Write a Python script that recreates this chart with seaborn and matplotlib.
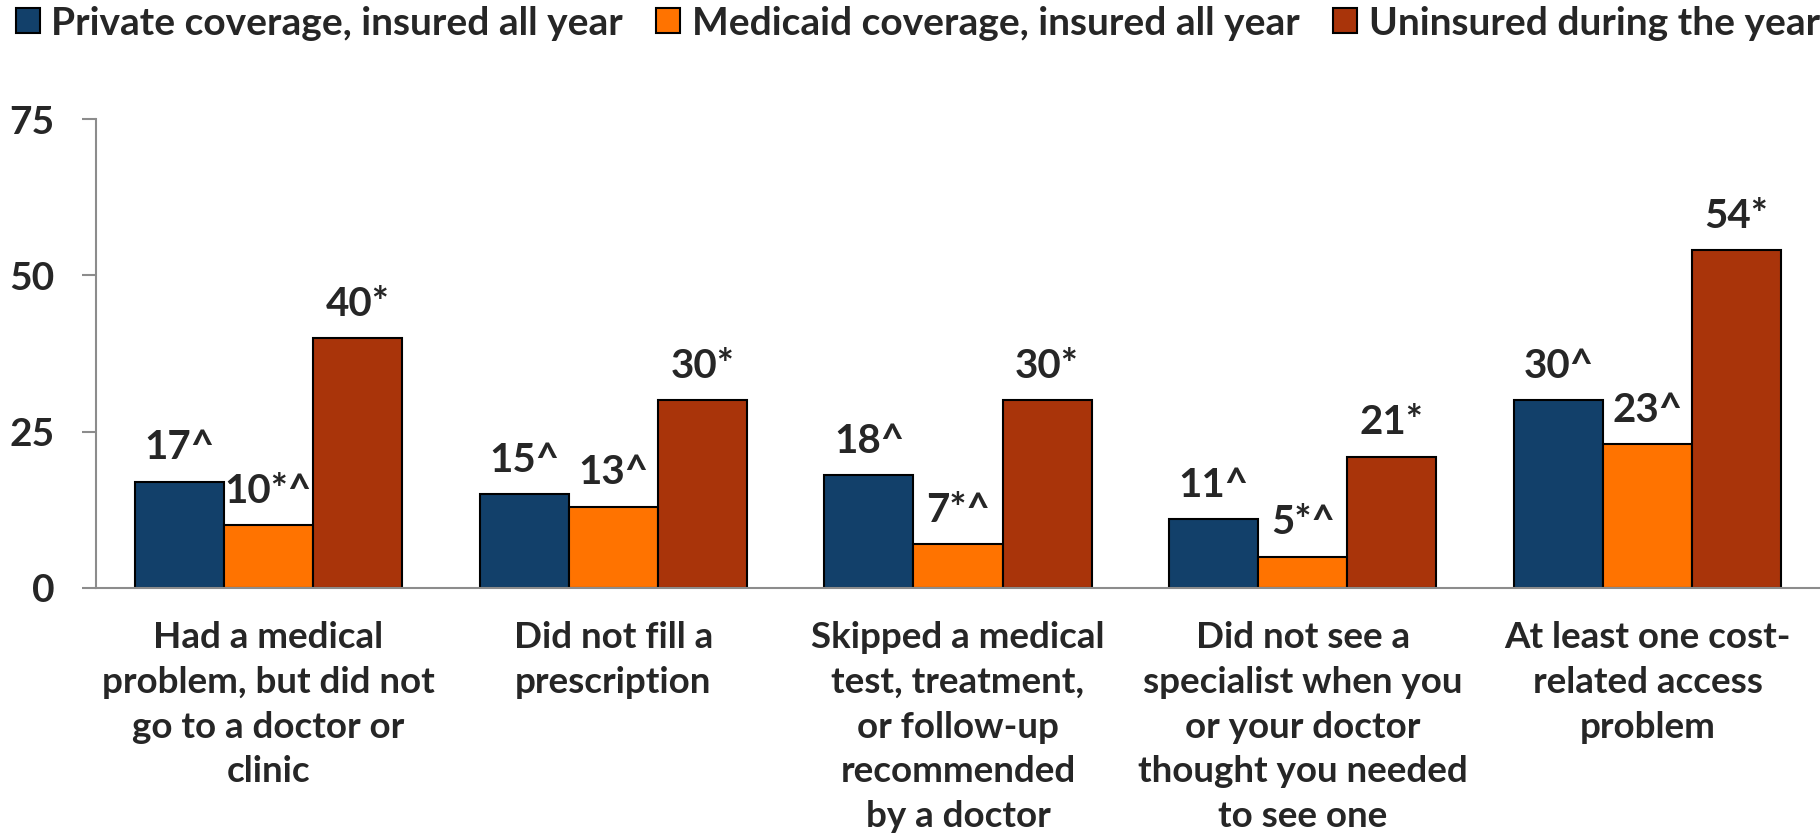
import matplotlib
matplotlib.use("Agg")
import matplotlib.pyplot as plt
import seaborn as sns
import pandas as pd
from matplotlib.patches import Patch

categories = [
    "Had a medical\nproblem, but did not\ngo to a doctor or\nclinic",
    "Did not fill a\nprescription",
    "Skipped a medical\ntest, treatment,\nor follow-up\nrecommended\nby a doctor",
    "Did not see a\nspecialist when you\nor your doctor\nthought you needed\nto see one",
    "At least one cost-\nrelated access\nproblem",
]
series = ["Private coverage, insured all year",
          "Medicaid coverage, insured all year",
          "Uninsured during the year"]
private = [17, 15, 18, 11, 30]
medicaid = [10, 13, 7, 5, 23]
uninsured = [40, 30, 30, 21, 54]
private_labels = ["17^", "15^", "18^", "11^", "30^"]
medicaid_labels = ["10*^", "13^", "7*^", "5*^", "23^"]
uninsured_labels = ["40*", "30*", "30*", "21*", "54*"]
colors = ["#12406A", "#FF7300", "#A9340A"]
yticks = [0, 25, 50, 75]

rows = []
for s, vals in zip(series, [private, medicaid, uninsured]):
    for c, v in zip(categories, vals):
        rows.append({"category": c, "series": s, "value": v})
df = pd.DataFrame(rows)

sns.set_style("white")
FONT = "Lato"
plt.rcParams["font.family"] = [FONT, "DejaVu Sans"]
plt.rcParams["font.weight"] = "bold"

fig = plt.figure(figsize=(18.2, 8.36), dpi=100)
ax = fig.add_axes([96 / 1820, (836 - 588) / 836, 1 - 96 / 1820, (588 - 119) / 836])

sns.barplot(data=df, x="category", y="value", hue="series", order=categories,
            hue_order=series, palette=colors, saturation=1, width=0.775,
            edgecolor="black", linewidth=1.5, ax=ax, legend=False)

for cont, labs in zip(ax.containers, [private_labels, medicaid_labels, uninsured_labels]):
    ax.bar_label(cont, labels=labs, padding=11, fontsize=29, fontweight="bold")

ax.set_ylim(0, 75)
ax.set_xlim(-0.5, 4.5)
ax.set_yticks(yticks)
ax.set_yticklabels([str(t) for t in yticks], fontsize=28, fontweight="bold")
ax.set_xlabel("")
ax.set_ylabel("")

ax.set_xticks(range(len(categories)))
ax.set_xticklabels(categories, fontsize=26.5, fontweight="bold", linespacing=1.43)
ax.tick_params(axis="x", which="major", length=0, pad=24)
ax.set_xticks([i - 0.5 for i in range(len(categories) + 1)], minor=True)
ax.tick_params(axis="x", which="minor", length=9, width=1.5, color="#8c8c8c", direction="out")
ax.tick_params(axis="y", length=10, width=1.5, color="#8c8c8c", direction="out", pad=20, left=True)

for side in ["top", "right"]:
    ax.spines[side].set_visible(False)
for side in ["left", "bottom"]:
    ax.spines[side].set_color("#8c8c8c")
    ax.spines[side].set_linewidth(1.5)

handles = [Patch(facecolor=c, edgecolor="black", linewidth=1.5) for c in colors]
fig.legend(handles, series, loc="upper left", bbox_to_anchor=(0.0, 1.012), ncol=3,
           frameon=False, handlelength=0.62, handleheight=0.62,
           handletextpad=0.3, columnspacing=0.85, borderaxespad=0.0,
           prop={"family": [FONT, "DejaVu Sans"], "weight": "bold", "size": 28})

fig.savefig("out.png", dpi=100)
